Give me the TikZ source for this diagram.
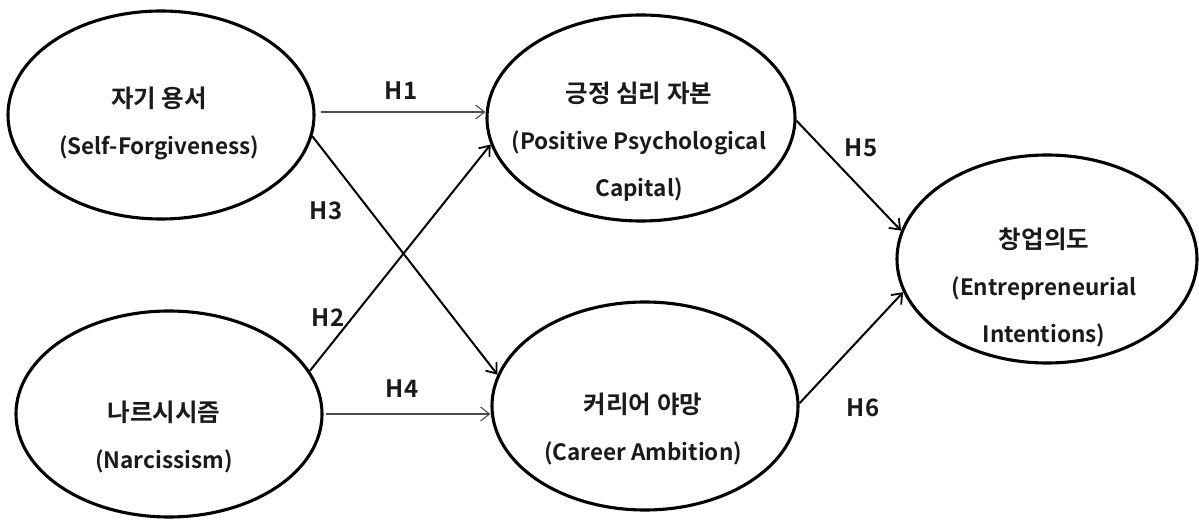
\documentclass[tikz,border=0pt]{standalone}
\usepackage{fontspec}
\setmainfont{Noto Sans CJK KR}[BoldFont={Noto Sans CJK KR Bold}]
\usetikzlibrary{shapes.geometric,arrows.meta}
\definecolor{ink}{HTML}{1A1A1A}
% Korean name line, set a little larger than the English gloss
\newcommand{\krname}[1]{{\fontsize{24.5}{47}\selectfont #1}}
\tikzset{
  construct/.style={draw=black, line width=3.1pt, ellipse, inner sep=0pt},
  caption/.style={text=ink, align=center, inner sep=0pt,
    font=\fontsize{22.5}{47}\selectfont\bfseries},
  pathbold/.style={draw=black, line width=2pt,
    -{Straight Barb[length=9pt,width=14pt,line width=1.8pt]}},
  paththin/.style={draw=black!70, line width=1.2pt,
    -{Straight Barb[length=9pt,width=14pt,line width=1.1pt]}},
  hyp/.style={text=ink, font=\fontsize{24}{26}\selectfont\bfseries, inner sep=0pt}
}
\begin{document}
\begin{tikzpicture}[x=1pt,y=-1pt]
\useasboundingbox (0,0) rectangle (1199,521);
% latent constructs (outlines)
\node[construct, minimum width=306pt, minimum height=208pt] (sf) at (161,115) {};
\node[construct, minimum width=306pt, minimum height=206pt] (nar) at (169,414) {};
\node[construct, minimum width=308pt, minimum height=206pt] (pc) at (641,118) {};
\node[construct, minimum width=306pt, minimum height=208pt] (ca) at (645,406) {};
\node[construct, minimum width=300pt, minimum height=208pt] (ei) at (1047,259) {};
% construct names
\node[caption] (sf-t) at (159,123) {\krname{자기 용서}\\(Self-Forgiveness)};
\node[caption] (nar-t) at (164,437) {\krname{나르시시즘}\\(Narcissism)};
\node[caption] (pc-t) at (639,142) {\krname{긍정 심리 자본}\\(Positive Psychological\\Capital)};
\node[caption] (ca-t) at (643,429) {\krname{커리어 야망}\\(Career Ambition)};
\node[caption] (ei-t) at (1044,287) {\krname{창업의도}\\(Entrepreneurial\\Intentions)};
% hypothesised paths
\draw[paththin] ([xshift=5pt,yshift=3pt]sf.east) -- ([yshift=3pt]sf.east -| pc.west);
\draw[paththin] ([xshift=2pt]nar.east) -- (nar.east -| ca.west);
\draw[pathbold] (sf.-8.6) -- (ca.168.9);
\draw[pathbold] (nar.17.2) -- (pc.190.3);
\draw[pathbold] (pc.-1.5) -- (ei.169);
\draw[pathbold] (ca.1.1) -- (ei.193.3);
% path labels
\node[hyp] (h1) at (401,91) {H1};
\node[hyp] (h2) at (328,318) {H2};
\node[hyp] (h3) at (326,211) {H3};
\node[hyp] (h4) at (402,389) {H4};
\node[hyp] (h5) at (861,148) {H5};
\node[hyp] (h6) at (863,408) {H6};
\end{tikzpicture}
\end{document}
